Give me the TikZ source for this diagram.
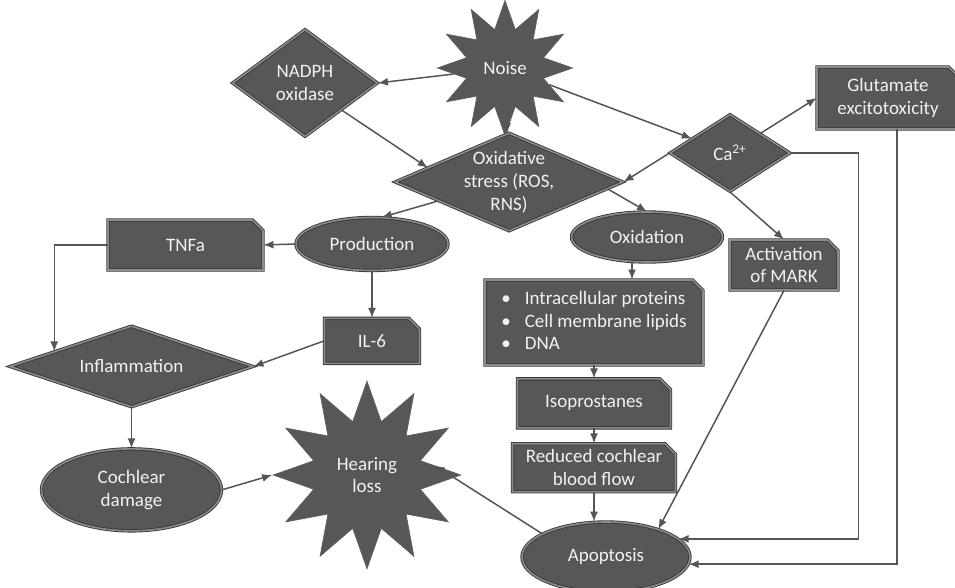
\documentclass[tikz,border=0pt]{standalone}
\usepackage{fontspec}
\setmainfont{Carlito}
\usetikzlibrary{arrows.meta,positioning,shapes.geometric,shapes.misc}
\definecolor{Shape}{HTML}{575757}
\definecolor{Edge}{HTML}{383838}
\definecolor{Bevel}{HTML}{8C8C8C}
\definecolor{Ink}{HTML}{F2F2F2}
\definecolor{Wire}{HTML}{555555}

\begin{document}
\begin{tikzpicture}[
 txt/.style={text=Ink,font=\fontsize{10.8}{13}\selectfont,align=center,inner sep=0pt},
 base/.style={txt,fill=Shape,draw=Edge,line width=0.5pt,double=Bevel,double distance=0.9pt},
 box/.style={base,chamfered rectangle,chamfered rectangle corners=north east,chamfered rectangle xsep=3pt,chamfered rectangle ysep=3pt},
 oval/.style={base,ellipse},
 diam/.style={base,diamond,label={[txt]center:{#1}}},
 burst/.style={star,star points=12,star point ratio=1.7,fill=Shape,draw=Edge!80,line width=0.4pt,inner sep=0pt,label={[txt]center:{#1}}},
 arrow/.style={-{Latex[length=2mm,width=1.6mm]},line width=0.85pt,draw=Wire}]
 \useasboundingbox(0,0)rectangle(19.1,-11.76);
 % top row
 \node[burst=Noise,minimum size=2.7cm](noise)at(10.1,-1.36){};
 \node[diam={NADPH\\oxidase},minimum width=2.9cm,minimum height=2.14cm](nadph)at(6.1,-1.66){};
 \node[diam={Oxidative\\stress (ROS,\\RNS)},minimum width=4.56cm,minimum height=1.96cm](oxid)at(10.18,-3.64){};
 \node[diam={Ca\textsuperscript{2+}},minimum width=2.4cm,minimum height=1.54cm](ca)at(14.6,-3.06){};
 \node[box,minimum width=2.84cm,minimum height=1.24cm](glut)at(17.76,-1.96){Glutamate\\excitotoxicity};
 \node[box,minimum width=2.16cm,minimum height=1.0cm](mark)at(15.68,-5.3){Activation\\of MARK};
 % production branch
 \node[oval,minimum width=3.04cm,minimum height=1.06cm](prod)at(7.44,-4.88){Production};
 \node[box,minimum width=3.1cm,minimum height=1.0cm](tnf)at(3.71,-4.9){TNFa};
 \node[box,minimum width=1.9cm,minimum height=0.9cm,below=0.94cm of prod](il6){IL-6};
 \node[diam=Inflammation,minimum width=4.86cm,minimum height=1.62cm](infl)at(2.63,-7.33){};
 \node[oval,minimum width=3.6cm,minimum height=1.64cm,below=0.82cm of infl](coch){Cochlear\\damage};
 \node[burst={Hearing\\loss},minimum size=3.75cm](hear)at(7.34,-9.5){};
 % oxidation branch
 \node[oval,minimum width=3.02cm,minimum height=1.0cm](oxdn)at(12.94,-4.74){Oxidation};
 \node[box,minimum width=4.36cm,minimum height=1.7cm](bul)at(11.88,-6.45){%
  \begin{tabular}{@{}l@{\hspace{8pt}}l@{}}\textbullet&Intracellular proteins\\\textbullet&Cell membrane lipids\\\textbullet&DNA\end{tabular}};
 \node[box,minimum width=3.06cm,minimum height=0.98cm,below=0.26cm of bul](iso){Isoprostanes};
 \node[box,minimum width=3.26cm,minimum height=0.96cm,below=0.3cm of iso](red){Reduced cochlear\\blood flow};
 \node[oval,minimum width=3.36cm,minimum height=1.4cm](apo)at(12.12,-11.14){Apoptosis};
 % connectors
 \draw[arrow](noise)--(nadph.east);
 \draw[arrow](noise)--(oxid);
 \draw[arrow](noise)--(ca);
 \draw[arrow](nadph.south east)--(oxid.170);
 \draw[arrow](ca.west)--(oxid.east);
 \draw[arrow](ca.north east)--(glut.west);
 \draw[arrow](ca.south)--(mark.north);
 \draw[arrow](ca.east)--++(1.36,0)|-(apo.14);
 \draw[arrow]([xshift=0.18cm]glut.south)|-(apo.-5);
 \draw[arrow](mark.south)--(apo.28);
 \draw[arrow](oxid.195)--(prod.70);
 \draw[arrow](oxid.-4)--(oxdn.north);
 \draw[arrow](prod.west)--(tnf.east);
 \draw[arrow](prod.south)--(il6.north);
 \draw[arrow](tnf.west)-|(infl.169);
 \draw[arrow](il6.west)--(infl.east);
 \draw[arrow](infl.south)--(coch.north);
 \draw[arrow](coch.east)--(hear.180);
 \draw[arrow](apo.160)--(hear.8);
 \draw[arrow]([xshift=-3mm]oxdn.south)--([xshift=-3mm]oxdn.south|-bul.north);
 \draw[arrow](bul.south)--(iso.north);
 \draw[arrow](iso.south)--(red.north);
 \draw[arrow](red.south)--(red.south|-apo.north);
\end{tikzpicture}
\end{document}
